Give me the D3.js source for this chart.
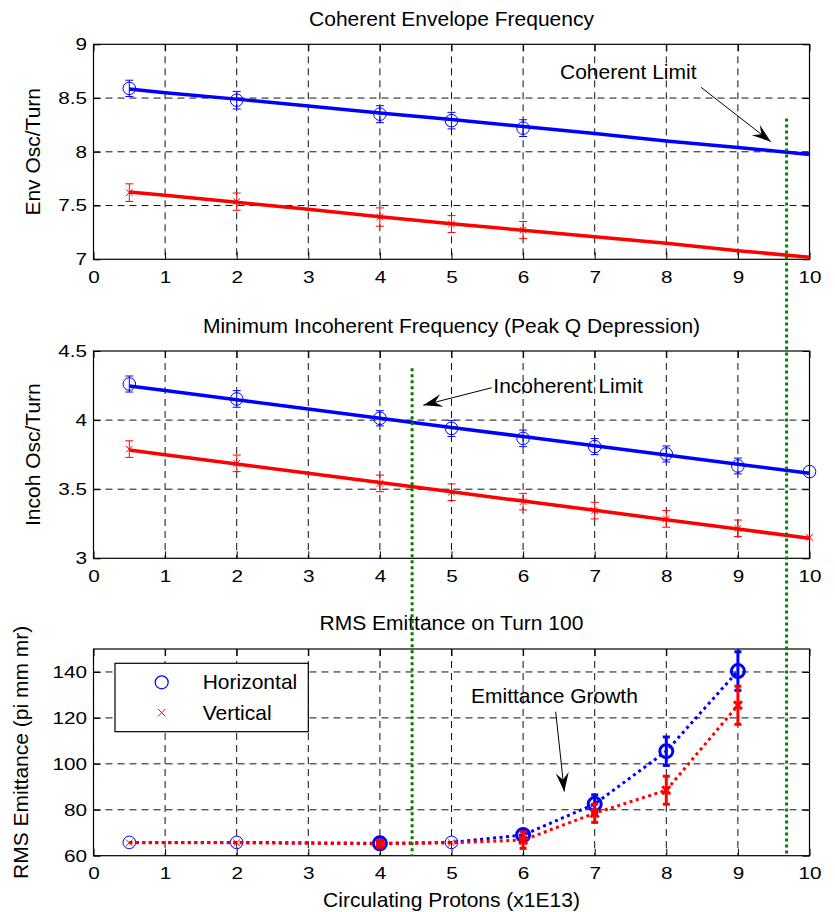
<!DOCTYPE html>
<html>
<head>
<meta charset="utf-8">
<script src="https://cdn.jsdelivr.net/npm/d3@7"></script>
<style>
  body { margin: 0; background: #fff; }
  svg { display: block; }
  text { font-family: "Liberation Sans", Arial, Helvetica, sans-serif; fill: #000; }
</style>
</head>
<body>
<svg id="fig" width="835" height="912"></svg>
<script>
// ---- shared x axis ----
const xTickValues = [0, 1, 2, 3, 4, 5, 6, 7, 8, 9, 10];
const xAxisLabel = "Circulating Protons (x1E13)";

// ---- panel 1: coherent envelope frequency ----
const envTitle = "Coherent Envelope Frequency";
const envYLabel = "Env Osc/Turn";
const envYTicks = [7, 7.5, 8, 8.5, 9];
const envX = [0.5, 2, 4, 5, 6];
const envH = [8.59, 8.48, 8.35, 8.29, 8.22];
const envHErr = [0.076, 0.082, 0.079, 0.077, 0.078];
const envV = [7.62, 7.536, 7.393, 7.328, 7.272];
const envVErr = [0.082, 0.08, 0.085, 0.078, 0.08];
const fitX = [0.5, 1, 2, 3, 4, 5, 6, 7, 8, 9, 10];
const envHFit = [8.585, 8.55, 8.49, 8.425, 8.36, 8.30, 8.235, 8.17, 8.10, 8.04, 7.975];
const envVFit = [7.625, 7.595, 7.53, 7.465, 7.395, 7.33, 7.27, 7.21, 7.15, 7.08, 7.02];

// ---- panel 2: minimum incoherent frequency ----
const incTitle = "Minimum Incoherent Frequency (Peak Q Depression)";
const incYLabel = "Incoh Osc/Turn";
const incYTicks = [3, 3.5, 4, 4.5];
const incX = [0.5, 2, 4, 5, 6, 7, 8, 9, 10];
const incH = [4.261, 4.153, 4.013, 3.94, 3.868, 3.808, 3.755, 3.668, 3.627];
const incHErr = [0.058, 0.06, 0.055, 0.058, 0.06, 0.058, 0.058, 0.057, 0];
const incV = [3.79, 3.687, 3.542, 3.478, 3.41, 3.345, 3.285, 3.217, 3.152];
const incVErr = [0.06, 0.06, 0.06, 0.06, 0.06, 0.06, 0.06, 0.06, 0];
const incHFit = [4.247, 4.214, 4.147, 4.081, 4.014, 3.947, 3.881, 3.814, 3.748, 3.681, 3.615];
const incVFit = [3.784, 3.75, 3.683, 3.616, 3.548, 3.481, 3.414, 3.347, 3.279, 3.212, 3.145];

// ---- panel 3: RMS emittance on turn 100 ----
const emitTitle = "RMS Emittance on Turn 100";
const emitYLabel = "RMS Emittance (pi mm mr)";
const emitYTicks = [60, 80, 100, 120, 140];
const emitX = [0.5, 2, 4, 5, 6, 7, 8, 9];
const emitH = [65.8, 65.8, 65.4, 65.8, 69, 82.5, 105.5, 140.4];
const emitHErr = [0, 0, 1.5, 0, 2.3, 4, 6.2, 8.4];
const emitV = [65.6, 65.6, 65.2, 65.6, 66.8, 78.5, 88.5, 125.5];
const emitVErr = [0, 0, 1.5, 0, 3.6, 4, 6.1, 8.3];

// ---- legend / annotations ----
const seriesNames = ["Horizontal", "Vertical"];
const coherentLimitX = 9.68, coherentLimitTop = 8.31;     // starts in panel 1
const incoherentLimitX = 4.45, incoherentLimitTop = 4.375; // starts in panel 2
const notes = [
  { panel: 0, text: "Coherent Limit",   tx: 6.515, ty: 8.674, from: [8.485, 8.6],   to: [9.46, 8.094] },
  { panel: 1, text: "Incoherent Limit", tx: 5.584, ty: 4.194, from: [5.561, 4.234], to: [4.606, 4.108] },
  { panel: 2, text: "Emittance Growth", tx: 5.272, ty: 126.3, from: [6.455, 122.7], to: [6.575, 87.9] }
];

const BLUE = "#0000ff", RED = "#ff0000", GREEN = "#008000";
const svg = d3.select("#fig");

const x = d3.scaleLinear().domain([0, 10]).range([93.5, 809.5]);
const panels = [
  { top: 44.3, bottom: 259.3, domain: [7, 9],    ticks: envYTicks,  title: envTitle,  ylabel: envYLabel,  titleY: 26,  ylabelX: 40 },
  { top: 351,  bottom: 558.3, domain: [3, 4.5],  ticks: incYTicks,  title: incTitle,  ylabel: incYLabel,  titleY: 333, ylabelX: 40 },
  { top: 649,  bottom: 855.7, domain: [60, 150], ticks: emitYTicks, title: emitTitle, ylabel: emitYLabel, titleY: 630, ylabelX: 27.5 }
];
panels.forEach(p => { p.y = d3.scaleLinear().domain(p.domain).range([p.bottom, p.top]); });

const [x0, x1] = x.range();
const cx = (x0 + x1) / 2;
const tickFont = 17, tickStretch = 1.22;
const plain = d => String(d);

function drawFrame(p) {
  const g = svg.append("g");
  // dashed grid
  g.selectAll(".vg").data(xTickValues.filter(v => v > 0 && v < 10)).join("line")
    .attr("x1", d => x(d)).attr("x2", d => x(d)).attr("y1", p.top).attr("y2", p.bottom)
    .attr("stroke", "#111").attr("stroke-width", 1).attr("stroke-dasharray", "7,5");
  g.selectAll(".hg").data(p.ticks.filter(v => v > p.domain[0] && v < p.domain[1])).join("line")
    .attr("x1", x0).attr("x2", x1).attr("y1", d => p.y(d)).attr("y2", d => p.y(d))
    .attr("stroke", "#111").attr("stroke-width", 1).attr("stroke-dasharray", "7,5");
  // axes with inward ticks
  const bottom = g.append("g").attr("transform", `translate(0,${p.bottom})`)
    .call(d3.axisBottom(x).tickValues(xTickValues).tickFormat(plain).tickSizeInner(-7).tickSizeOuter(0).tickPadding(11.5));
  const top = g.append("g").attr("transform", `translate(0,${p.top})`)
    .call(d3.axisTop(x).tickValues(xTickValues).tickSizeInner(-7).tickSizeOuter(0).tickFormat(""));
  const left = g.append("g").attr("transform", `translate(${x0},0)`)
    .call(d3.axisLeft(p.y).tickValues(p.ticks).tickFormat(plain).tickSizeInner(-7).tickSizeOuter(0).tickPadding(6.5));
  const right = g.append("g").attr("transform", `translate(${x1},0)`)
    .call(d3.axisRight(p.y).tickValues(p.ticks).tickSizeInner(-7).tickSizeOuter(0).tickFormat(""));
  [bottom, top, left, right].forEach(a => {
    a.selectAll("path.domain").remove();
    a.selectAll(".tick line").attr("stroke", "#000");
    a.selectAll("text").attr("font-size", tickFont).attr("font-family", '"Liberation Sans", Arial, sans-serif').attr("fill", "#000");
  });
  // widen tick labels horizontally around their anchor point
  bottom.selectAll(".tick text").attr("transform", `scale(${tickStretch},1)`);
  left.selectAll(".tick text").each(function () {
    const t = d3.select(this);
    const ax = +t.attr("x");
    t.attr("x", ax / tickStretch).attr("transform", `scale(${tickStretch},1)`);
  });
  g.append("rect").attr("x", x0).attr("y", p.top).attr("width", x1 - x0).attr("height", p.bottom - p.top)
    .attr("fill", "none").attr("stroke", "#000").attr("stroke-width", 1.2);
  // title and y label
  svg.append("text").attr("x", cx).attr("y", p.titleY).attr("text-anchor", "middle")
    .attr("font-size", 21).text(p.title);
  svg.append("text").attr("transform", `translate(${p.ylabelX},${(p.top + p.bottom) / 2}) rotate(-90)`)
    .attr("text-anchor", "middle").attr("font-size", 21).text(p.ylabel);
}

function drawLine(p, xs, ys, color, opts) {
  const line = d3.line().x((d, i) => x(xs[i])).y(d => p.y(d));
  const path = svg.append("path").datum(ys).attr("d", line).attr("fill", "none")
    .attr("stroke", color).attr("stroke-width", opts.width);
  if (opts.dash) path.attr("stroke-dasharray", opts.dash);
}

function drawErrors(p, xs, ys, es, color, width, cap) {
  const pts = xs.map((xv, i) => ({ x: xv, y: ys[i], e: es[i] })).filter(d => d.e > 0);
  const g = svg.append("g").attr("stroke", color).attr("stroke-width", width).attr("fill", "none");
  pts.forEach(d => {
    const px = x(d.x), yt = p.y(d.y + d.e), yb = p.y(d.y - d.e);
    g.append("line").attr("x1", px).attr("x2", px).attr("y1", yt).attr("y2", yb);
    g.append("line").attr("x1", px - cap / 2).attr("x2", px + cap / 2).attr("y1", yt).attr("y2", yt);
    g.append("line").attr("x1", px - cap / 2).attr("x2", px + cap / 2).attr("y1", yb).attr("y2", yb);
  });
}

function circleMark(g, px, py, r, color, w) {
  g.append("circle").attr("cx", px).attr("cy", py).attr("r", r)
    .attr("fill", "none").attr("stroke", color).attr("stroke-width", w);
}
function crossMark(g, px, py, h, color, w) {
  g.append("path").attr("d", `M${px - h},${py - h}L${px + h},${py + h}M${px - h},${py + h}L${px + h},${py - h}`)
    .attr("fill", "none").attr("stroke", color).attr("stroke-width", w);
}

function drawMarkers(p, xs, ys, es, kind, color, thickWhenErr) {
  const g = svg.append("g");
  xs.forEach((xv, i) => {
    const bold = thickWhenErr && es[i] > 0;
    if (kind === "o") circleMark(g, x(xv), p.y(ys[i]), bold ? 6.5 : 6.3, color, bold ? 3 : 1);
    else crossMark(g, x(xv), p.y(ys[i]), bold ? 4 : 3.3, color, bold ? 3 : 1);
  });
}

panels.forEach(drawFrame);

// panel 1
{
  const p = panels[0];
  drawLine(p, fitX, envHFit, BLUE, { width: 3.5 });
  drawErrors(p, envX, envH, envHErr, BLUE, 1, 8);
  drawMarkers(p, envX, envH, envHErr, "o", BLUE, false);
  drawLine(p, fitX, envVFit, RED, { width: 3.5 });
  drawErrors(p, envX, envV, envVErr, RED, 1, 8);
  drawMarkers(p, envX, envV, envVErr, "x", RED, false);
}
// panel 2
{
  const p = panels[1];
  drawLine(p, fitX, incHFit, BLUE, { width: 3.5 });
  drawErrors(p, incX, incH, incHErr, BLUE, 1, 8);
  drawMarkers(p, incX, incH, incHErr, "o", BLUE, false);
  drawLine(p, fitX, incVFit, RED, { width: 3.5 });
  drawErrors(p, incX, incV, incVErr, RED, 1, 8);
  drawMarkers(p, incX, incV, incVErr, "x", RED, false);
}
// panel 3
{
  const p = panels[2];
  drawLine(p, emitX, emitH, BLUE, { width: 3, dash: "3,3.5" });
  drawErrors(p, emitX, emitH, emitHErr, BLUE, 3, 7);
  drawMarkers(p, emitX, emitH, emitHErr, "o", BLUE, true);
  drawLine(p, emitX, emitV, RED, { width: 3, dash: "3,3.5" });
  drawErrors(p, emitX, emitV, emitVErr, RED, 3, 7);
  drawMarkers(p, emitX, emitV, emitVErr, "x", RED, true);

  // legend
  const lg = svg.append("g");
  lg.append("rect").attr("x", 115).attr("y", 663.3).attr("width", 193.3).attr("height", 68.4)
    .attr("fill", "#fff").attr("stroke", "#000").attr("stroke-width", 1.2);
  circleMark(lg, 161.7, 682.3, 6.5, BLUE, 1.2);
  crossMark(lg, 161.7, 712.7, 3.8, RED, 1);
  lg.append("text").attr("x", 202.7).attr("y", 688.8).attr("font-size", 21).text(seriesNames[0]);
  lg.append("text").attr("x", 202.7).attr("y", 720).attr("font-size", 21).text(seriesNames[1]);
}

// x axis title
svg.append("text").attr("x", cx).attr("y", 907).attr("text-anchor", "middle")
  .attr("font-size", 21).text(xAxisLabel);

// annotations with arrows
function arrowHead(tx, ty, fx, fy) {
  const dx = tx - fx, dy = ty - fy, L = Math.hypot(dx, dy);
  const ux = dx / L, uy = dy / L, nx = -uy, ny = ux;
  const len = 19, hw = 6.5, notch = 12;
  const bx = tx - ux * len, by = ty - uy * len;
  const mx = tx - ux * notch, my = ty - uy * notch;
  return `M${tx},${ty}L${bx + nx * hw},${by + ny * hw}L${mx},${my}L${bx - nx * hw},${by - ny * hw}Z`;
}
notes.forEach(n => {
  const p = panels[n.panel];
  svg.append("text").attr("x", x(n.tx)).attr("y", p.y(n.ty)).attr("font-size", 21).text(n.text);
  const fx = x(n.from[0]), fy = p.y(n.from[1]), tx = x(n.to[0]), ty = p.y(n.to[1]);
  svg.append("line").attr("x1", fx).attr("y1", fy).attr("x2", tx).attr("y2", ty)
    .attr("stroke", "#000").attr("stroke-width", 1);
  svg.append("path").attr("d", arrowHead(tx, ty, fx, fy)).attr("fill", "#000");
});

// stability limits (span down to the bottom of the emittance panel)
const limits = [
  { x: coherentLimitX, y0: panels[0].y(coherentLimitTop) },
  { x: incoherentLimitX, y0: panels[1].y(incoherentLimitTop) }
];
svg.selectAll(".limit").data(limits).join("line")
  .attr("x1", d => x(d.x)).attr("x2", d => x(d.x))
  .attr("y1", d => d.y0).attr("y2", panels[2].y(60))
  .attr("stroke", GREEN).attr("stroke-width", 3).attr("stroke-dasharray", "3,3");
</script>
</body>
</html>
